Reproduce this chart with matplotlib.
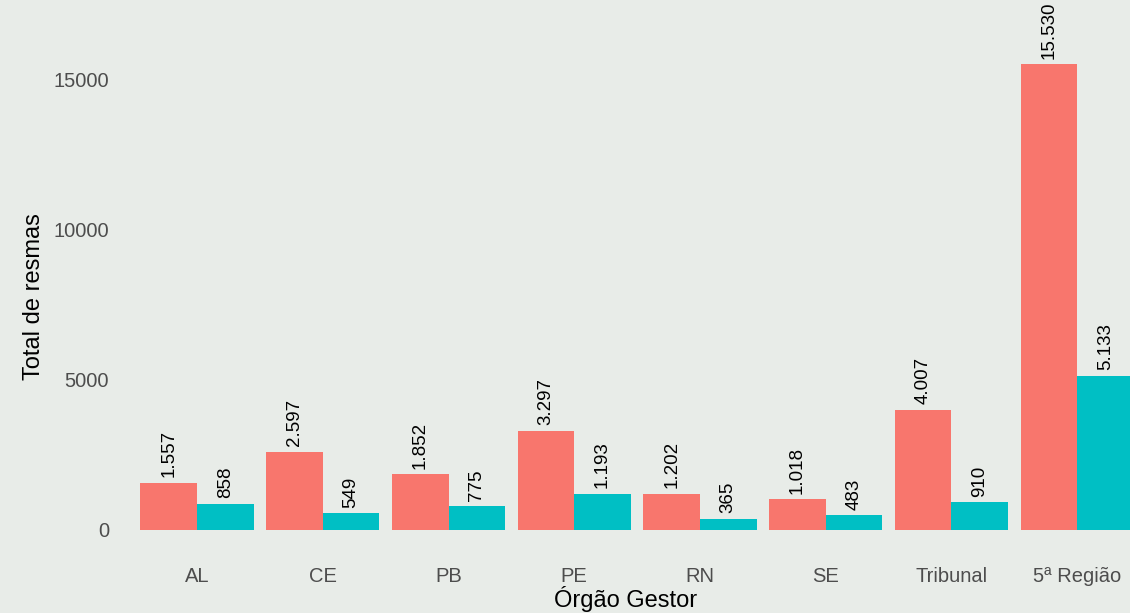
import matplotlib.pyplot as plt
import numpy as np

orgaos = ["AL", "CE", "PB", "PE", "RN", "SE", "Tribunal", "5ª Região"]
serie_a = [1557, 2597, 1852, 3297, 1202, 1018, 4007, 15530]
serie_b = [858, 549, 775, 1193, 365, 483, 910, 5133]
yticks = [0, 5000, 10000, 15000]


def fmt(v):
    return f"{v:,}".replace(",", ".")


plt.rcParams["font.family"] = ["Liberation Sans", "DejaVu Sans"]
bg = "#e8ece8"

fig = plt.figure(figsize=(11.3, 6.13), dpi=100, facecolor=bg)
ax = fig.add_axes([121.6 / 1130, 60 / 613, 1 - 121.6 / 1130, (553 - 40.8) / 613])
ax.set_facecolor(bg)

x = np.arange(1, len(orgaos) + 1)
w = 0.45
ax.bar(x - w / 2, serie_a, width=w, color="#F8766D")
ax.bar(x + w / 2, serie_b, width=w, color="#00BFC4")

for xi, a, b in zip(x, serie_a, serie_b):
    ax.annotate(fmt(a), (xi - w / 2, a), xytext=(0, 4), textcoords="offset points",
                rotation=90, ha="center", va="bottom", fontsize=13.5,
                annotation_clip=False)
    ax.annotate(fmt(b), (xi + w / 2, b), xytext=(0, 4), textcoords="offset points",
                rotation=90, ha="center", va="bottom", fontsize=13.5,
                annotation_clip=False)

ax.set_xlim(0.4, 8.42)
ymax = max(serie_a) * 1.05
ax.set_ylim(-ymax / 1.05 * 0.05, ymax)
ax.set_xticks(x)
ax.set_xticklabels(orgaos)
ax.set_yticks(yticks)
ax.tick_params(axis="both", length=0, labelsize=14.5, labelcolor="#4d4d4d")
ax.tick_params(axis="x", pad=10)
ax.tick_params(axis="y", pad=9)
for s in ax.spines.values():
    s.set_visible(False)

ax.set_xlabel("Órgão Gestor", fontsize=17, labelpad=0)
ax.set_ylabel("Total de resmas", fontsize=17, labelpad=6)

fig.savefig("out.png", dpi=100, facecolor=bg)
